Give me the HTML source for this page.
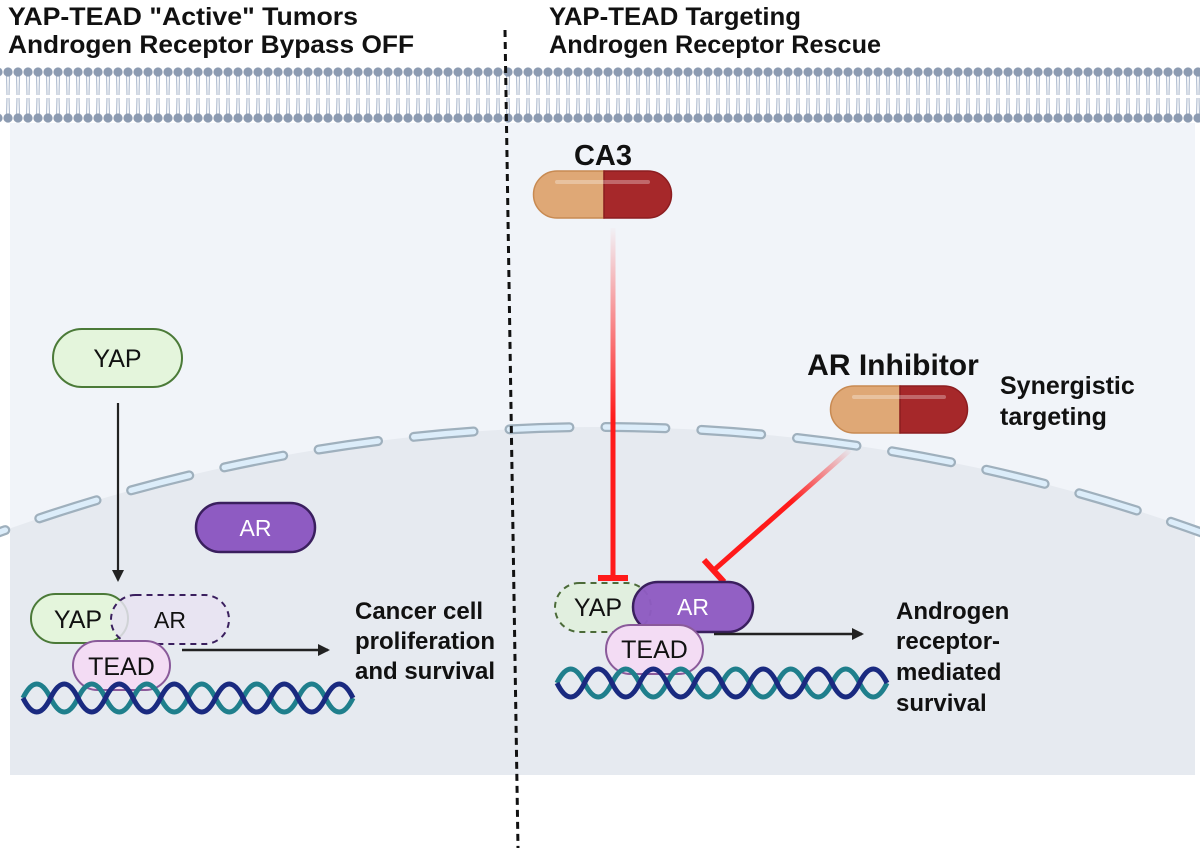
<!DOCTYPE html>
<html><head><meta charset="utf-8"><style>
html,body{margin:0;padding:0;background:#fff;width:1200px;height:853px;overflow:hidden}
svg{display:block}
text{font-family:"Liberation Sans",Arial,sans-serif}
.b{font-weight:bold;fill:#111}
</style></head><body>
<svg width="1200" height="853" viewBox="0 0 1200 853" xmlns="http://www.w3.org/2000/svg">
<defs>
<pattern id="mem" x="3" y="0" width="10" height="130" patternUnits="userSpaceOnUse">
<path d="M3.5 76 L4 95 M6.5 76 L6 95 M4 98 L3.5 114 M6 98 L6.5 114" stroke="#b4c0d2" stroke-width="1.2" fill="none"/>
<circle cx="5" cy="72" r="4.6" fill="#8c9bb1"/>
<circle cx="5" cy="118" r="4.6" fill="#8c9bb1"/>
</pattern>
<clipPath id="cell"><rect x="10" y="123" width="1185" height="652"/></clipPath>
<linearGradient id="g1" x1="0" y1="225" x2="0" y2="420" gradientUnits="userSpaceOnUse">
<stop offset="0" stop-color="#ff2020" stop-opacity="0"/><stop offset="1" stop-color="#ff1a1a"/></linearGradient>
<linearGradient id="g2" x1="850" y1="448" x2="790" y2="500" gradientUnits="userSpaceOnUse">
<stop offset="0" stop-color="#ff2020" stop-opacity="0"/><stop offset="1" stop-color="#ff1a1a"/></linearGradient>
<marker id="ah" markerWidth="12" markerHeight="12" refX="10" refY="6" orient="auto" markerUnits="userSpaceOnUse">
<path d="M0 0 L12 6 L0 12 Z" fill="#222"/></marker>
</defs>

<rect x="10" y="123" width="1185" height="652" fill="#f1f4f9"/>
<circle cx="600" cy="2194" r="1767" fill="#e6eaf0" clip-path="url(#cell)"/>
<g fill="none" stroke-linecap="round">
<circle cx="600" cy="2194" r="1767" stroke="#9fb0bd" stroke-width="10" stroke-dasharray="60 36" stroke-dashoffset="20"/>
<circle cx="600" cy="2194" r="1767" stroke="#dcedfa" stroke-width="5.5" stroke-dasharray="60 36" stroke-dashoffset="20"/>
</g>
<rect x="0" y="62" width="1200" height="64" fill="url(#mem)"/>

<line x1="505" y1="30" x2="518" y2="848" stroke="#111" stroke-width="3" stroke-dasharray="7 5"/>

<text class="b" x="8" y="25" font-size="25" textLength="350" lengthAdjust="spacingAndGlyphs">YAP-TEAD "Active" Tumors</text>
<text class="b" x="8" y="53" font-size="25" textLength="406" lengthAdjust="spacingAndGlyphs">Androgen Receptor Bypass OFF</text>
<text class="b" x="549" y="25" font-size="25" textLength="252" lengthAdjust="spacingAndGlyphs">YAP-TEAD Targeting</text>
<text class="b" x="549" y="53" font-size="25" textLength="332" lengthAdjust="spacingAndGlyphs">Androgen Receptor Rescue</text>

<rect x="53" y="329" width="129" height="58" rx="29" fill="#e4f5dc" stroke="#4b7a38" stroke-width="2"/>
<text x="117.5" y="367" font-size="25" text-anchor="middle" fill="#111">YAP</text>
<line x1="118" y1="403" x2="118" y2="580" stroke="#222" stroke-width="2.2" marker-end="url(#ah)"/>
<rect x="196" y="503" width="119" height="49" rx="24.5" fill="#8e5bc2" stroke="#3a1f5e" stroke-width="2.5"/>
<text x="255.5" y="536" font-size="23" text-anchor="middle" fill="#fff">AR</text>

<rect x="31" y="594" width="97" height="49" rx="24.5" fill="#e4f5dc" stroke="#4b7a38" stroke-width="2"/>
<rect x="111" y="595" width="118" height="49" rx="24.5" fill="#e7e3f2" fill-opacity="0.85" stroke="#3a1f5e" stroke-width="2" stroke-dasharray="6 5"/>
<text x="78" y="628" font-size="25" text-anchor="middle" fill="#111">YAP</text>
<text x="170" y="628" font-size="23" text-anchor="middle" fill="#111">AR</text>
<rect x="73" y="641" width="97" height="49" rx="24.5" fill="#f3dcf4" stroke="#8a5a9a" stroke-width="2"/>
<text x="121.5" y="675" font-size="25" text-anchor="middle" fill="#111">TEAD</text>
<line x1="182" y1="650" x2="328" y2="650" stroke="#222" stroke-width="2.5" marker-end="url(#ah)"/>
<g fill="none" stroke-width="5">
<path d="M23 698 q13.75 -28 27.5 0 t27.5 0 t27.5 0 t27.5 0 t27.5 0 t27.5 0 t27.5 0 t27.5 0 t27.5 0 t27.5 0 t27.5 0 t27.5 0" stroke="#1f7f8c"/>
<path d="M23 698 q13.75 28 27.5 0 t27.5 0 t27.5 0 t27.5 0 t27.5 0 t27.5 0 t27.5 0 t27.5 0 t27.5 0 t27.5 0 t27.5 0 t27.5 0" stroke="#1a2a80"/>
</g>
<text class="b" x="355" y="619" font-size="24">Cancer cell</text>
<text class="b" x="355" y="649" font-size="24">proliferation</text>
<text class="b" x="355" y="679" font-size="24">and survival</text>

<text class="b" x="603" y="165" font-size="29" text-anchor="middle">CA3</text>
<path d="M557 171 H604 V218 H557 A23.5 23.5 0 0 1 557 171 Z" fill="#dfa876" stroke="#c88a52" stroke-width="1.5"/>
<path d="M604 171 H648 A23.5 23.5 0 0 1 648 218 H604 Z" fill="#a6282a" stroke="#8c1d20" stroke-width="1.5"/>
<line x1="557" y1="182" x2="648" y2="182" stroke="#fff" stroke-opacity="0.3" stroke-width="4" stroke-linecap="round"/>
<line x1="613" y1="228" x2="613" y2="578" stroke="url(#g1)" stroke-width="5"/>
<line x1="598" y1="578" x2="628" y2="578" stroke="#ff1a1a" stroke-width="6"/>

<text class="b" x="893" y="375" font-size="30" text-anchor="middle">AR Inhibitor</text>
<path d="M854 386 H900 V433 H854 A23.5 23.5 0 0 1 854 386 Z" fill="#dfa876" stroke="#c88a52" stroke-width="1.5"/>
<path d="M900 386 H944 A23.5 23.5 0 0 1 944 433 H900 Z" fill="#a6282a" stroke="#8c1d20" stroke-width="1.5"/>
<line x1="854" y1="397" x2="944" y2="397" stroke="#fff" stroke-opacity="0.3" stroke-width="4" stroke-linecap="round"/>
<text class="b" x="1000" y="394" font-size="25">Synergistic</text>
<text class="b" x="1000" y="425" font-size="25">targeting</text>
<line x1="850" y1="450" x2="714" y2="570" stroke="url(#g2)" stroke-width="5"/>
<line x1="704" y1="560" x2="724" y2="582" stroke="#ff1a1a" stroke-width="6"/>

<rect x="555" y="583" width="96" height="49" rx="24.5" fill="#e1efdf" stroke="#4b6a38" stroke-width="2" stroke-dasharray="6 5"/>
<text x="598" y="616" font-size="25" text-anchor="middle" fill="#111">YAP</text>
<rect x="633" y="582" width="120" height="50" rx="25" fill="#8e5bc2" fill-opacity="0.97" stroke="#3a1f5e" stroke-width="2.5"/>
<text x="693" y="615" font-size="23" text-anchor="middle" fill="#fff">AR</text>
<rect x="606" y="625" width="97" height="49" rx="24.5" fill="#f3dcf4" stroke="#8a5a9a" stroke-width="2"/>
<text x="654.5" y="658" font-size="25" text-anchor="middle" fill="#111">TEAD</text>
<line x1="714" y1="634" x2="862" y2="634" stroke="#222" stroke-width="2.5" marker-end="url(#ah)"/>
<g fill="none" stroke-width="5">
<path d="M557 683 q13.75 -28 27.5 0 t27.5 0 t27.5 0 t27.5 0 t27.5 0 t27.5 0 t27.5 0 t27.5 0 t27.5 0 t27.5 0 t27.5 0 t27.5 0" stroke="#1f7f8c"/>
<path d="M557 683 q13.75 28 27.5 0 t27.5 0 t27.5 0 t27.5 0 t27.5 0 t27.5 0 t27.5 0 t27.5 0 t27.5 0 t27.5 0 t27.5 0 t27.5 0" stroke="#1a2a80"/>
</g>
<text class="b" x="896" y="619" font-size="24">Androgen</text>
<text class="b" x="896" y="649" font-size="24">receptor-</text>
<text class="b" x="896" y="680" font-size="24">mediated</text>
<text class="b" x="896" y="711" font-size="24">survival</text>
</svg>
</body></html>
